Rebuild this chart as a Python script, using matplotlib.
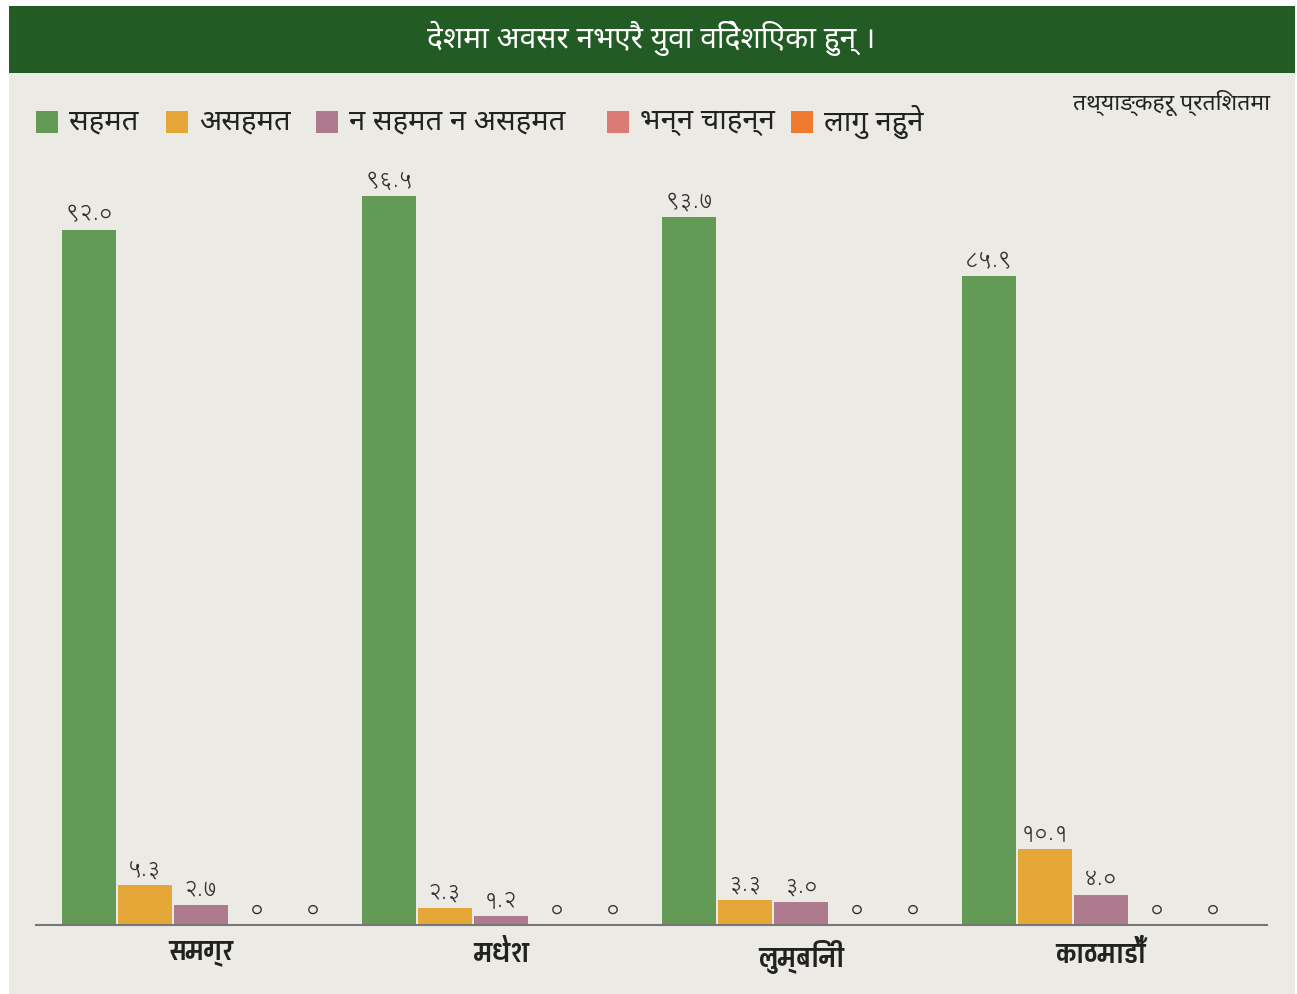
import matplotlib
matplotlib.use("Agg")
import matplotlib.pyplot as plt
from matplotlib.patches import Rectangle
import numpy as np

# ---------------- data ----------------
title = "देशमा अवसर नभएरै युवा विदेशिएका हुन् ।"
note = "तथ्याङ्कहरू प्रतिशतमा"
categories = ["समग्र", "मधेश", "लुम्बिनी", "काठमाडौँ"]
series_names = ["सहमत", "असहमत", "न सहमत न असहमत", "भन्न चाहन्न", "लागु नहुने"]
agree = [92.0, 96.5, 93.7, 85.9]
disagree = [5.3, 2.3, 3.3, 10.1]
neutral = [2.7, 1.2, 3.0, 4.0]
no_answer = [0, 0, 0, 0]
not_applicable = [0, 0, 0, 0]
series_values = [agree, disagree, neutral, no_answer, not_applicable]
colors = ["#639A55", "#E5A737", "#AD7A8E", "#DC7B76", "#F07A2E"]

TXT = ["Noto Sans Devanagari", "Pragati Narrow", "DejaVu Sans"]
BOLD = ["Pragati Narrow", "Noto Sans Devanagari", "DejaVu Sans"]
NUM = ["Lohit Devanagari", "Annapurna SIL", "Noto Sans Devanagari", "DejaVu Sans"]
plt.rcParams["font.family"] = TXT

deva_digits = str.maketrans("0123456789", "०१२३४५६७८९")
def to_deva(v):
    s = "0" if v == 0 else f"{v:.1f}"
    return s.translate(deva_digits)

# ---------------- figure ----------------
W, H = 1297, 994
fig = plt.figure(figsize=(W / 100, H / 100), dpi=100, facecolor="white")

def fx(px):
    return px / W

def fy(py):
    return 1 - py / H

fig.patches.append(Rectangle((fx(9), 0), fx(1295) - fx(9), fy(6), transform=fig.transFigure,
                             facecolor="#ECEAE5", edgecolor="none", zorder=-2))
fig.patches.append(Rectangle((fx(9), fy(73)), fx(1295) - fx(9), fy(6) - fy(73), transform=fig.transFigure,
                             facecolor="#225C24", edgecolor="none", zorder=-1))
fig.text(fx(651), fy(38), title, color="white", fontsize=21.5, ha="center", va="center", family=TXT)
fig.text(fx(1270), fy(103), note, color="#222222", fontsize=16.5, ha="right", va="center",
         style="italic", family=TXT)

leg_x = [36, 166, 316, 607, 791]
for x, name, c in zip(leg_x, series_names, colors):
    fig.patches.append(Rectangle((fx(x), fy(133)), fx(22), fy(111) - fy(133), transform=fig.transFigure,
                                 facecolor=c, edgecolor="none", zorder=2))
    fig.text(fx(x + 33), fy(122), name, color="#222222", fontsize=21, ha="left", va="center", family=TXT)

ax = fig.add_axes([fx(36), fy(925), fx(1267) - fx(36), fy(160) - fy(925)])
ax.set_zorder(3)
ax.set_facecolor("none")
n_groups = len(categories)
slot = 56 / 300
bw = 54 / 300
x = np.arange(n_groups)
for j, (vals, c) in enumerate(zip(series_values, colors)):
    pos = x + (j - 2) * slot
    ax.bar(pos, vals, width=bw, color=c, zorder=2)
    for p, v in zip(pos, vals):
        ax.annotate(to_deva(v), (p, v), xytext=(0, 4), textcoords="offset points",
                    ha="center", va="bottom", fontsize=15.5, color="#333333", family=NUM)

ax.set_xlim(-0.55, 3.5533)
ax.set_ylim(0, 101.3)
for s in ["top", "right", "left"]:
    ax.spines[s].set_visible(False)
ax.spines["bottom"].set_color("#777777")
ax.spines["bottom"].set_linewidth(1.5)
ax.set_yticks([])
ax.set_xticks(x)
ax.set_xticklabels(categories, fontsize=21, fontweight="bold", color="#222222", family=BOLD)
ax.tick_params(axis="x", length=0, pad=11)

fig.savefig("out.png", dpi=100, facecolor="white")
